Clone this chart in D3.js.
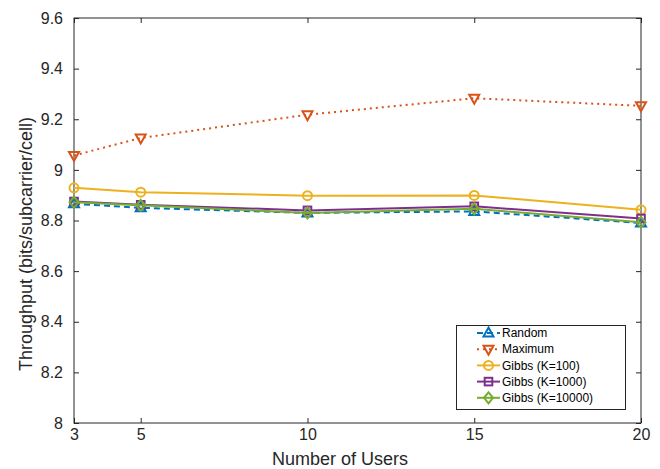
<!DOCTYPE html>
<html><head><meta charset="utf-8">
<script src="https://cdn.jsdelivr.net/npm/d3@7"></script>
<style>body{margin:0;background:#fff;}text{font-family:"Liberation Sans",Arial,sans-serif;}</style>
</head><body><svg id="c" width="660" height="469"></svg>
<script>
const users = [3, 5, 10, 15, 20];
const randomVals = [8.866, 8.850, 8.830, 8.836, 8.790];
const maximumVals = [9.057, 9.126, 9.218, 9.283, 9.253];
const gibbs100Vals = [8.929, 8.912, 8.898, 8.899, 8.842];
const gibbs1000Vals = [8.875, 8.862, 8.840, 8.856, 8.808];
const gibbs10000Vals = [8.872, 8.860, 8.830, 8.846, 8.793];
const seriesNames = ["Random", "Maximum", "Gibbs (K=100)", "Gibbs (K=1000)", "Gibbs (K=10000)"];
const xTicks = [3, 5, 10, 15, 20];
const yTicks = [8, 8.2, 8.4, 8.6, 8.8, 9, 9.2, 9.4, 9.6];

const series = [
  {name: seriesNames[0], vals: randomVals, color: "#0072BD", dash: "6,4", marker: "triUp"},
  {name: seriesNames[1], vals: maximumVals, color: "#D95319", dash: "2,4", marker: "triDown"},
  {name: seriesNames[2], vals: gibbs100Vals, color: "#EDB120", dash: null, marker: "circle"},
  {name: seriesNames[3], vals: gibbs1000Vals, color: "#7E2F8E", dash: null, marker: "square"},
  {name: seriesNames[4], vals: gibbs10000Vals, color: "#77AC30", dash: null, marker: "diamond"}
];

const L = 74, R = 641, T = 18, B = 423;
const svg = d3.select("#c");
const x = d3.scaleLinear().domain([3, 20]).range([L, R]);
const y = d3.scaleLinear().domain([8, 9.6]).range([B, T]);

const axisColor = "#262626";
svg.append("rect").attr("x", L).attr("y", T).attr("width", R - L).attr("height", B - T)
  .attr("fill", "none").attr("stroke", axisColor).attr("stroke-width", 1);

function styleAxis(g) {
  g.select(".domain").remove();
  g.selectAll(".tick line").attr("stroke", axisColor);
  g.selectAll(".tick text").attr("fill", axisColor).style("font-size", "16px");
}
svg.append("g").attr("transform", `translate(0,${B})`)
  .call(d3.axisBottom(x).tickValues(xTicks).tickSize(-5).tickPadding(6).tickFormat(d3.format("d")))
  .call(styleAxis);
svg.append("g").attr("transform", `translate(0,${T})`)
  .call(d3.axisTop(x).tickValues(xTicks).tickSize(-5).tickFormat(""))
  .call(styleAxis);
svg.append("g").attr("transform", `translate(${L},0)`)
  .call(d3.axisLeft(y).tickValues(yTicks).tickSize(-5).tickPadding(11).tickFormat(d => d3.format("")(+d.toFixed(1))))
  .call(styleAxis);
svg.append("g").attr("transform", `translate(${R},0)`)
  .call(d3.axisRight(y).tickValues(yTicks).tickSize(-5).tickFormat(""))
  .call(styleAxis);

svg.append("text").attr("x", 340).attr("y", 465).attr("text-anchor", "middle")
  .style("font-size", "18px").attr("fill", axisColor).text("Number of Users");
svg.append("text").attr("transform", `translate(32,244) rotate(-90)`).attr("text-anchor", "middle")
  .style("font-size", "18px").attr("fill", axisColor).text("Throughput (bits/subcarrier/cell)");

function drawMarker(g, type, cx, cy, color) {
  const s = 4.5;
  let el;
  if (type === "circle") el = g.append("circle").attr("cx", cx).attr("cy", cy).attr("r", s);
  else if (type === "square") el = g.append("rect").attr("x", cx - 3.8).attr("y", cy - 3.8).attr("width", 7.6).attr("height", 7.6);
  else {
    let pts;
    if (type === "triUp") pts = [[cx, cy - 5.5], [cx + 5, cy + 3.5], [cx - 5, cy + 3.5]];
    else if (type === "triDown") pts = [[cx, cy + 5.5], [cx + 5, cy - 3.5], [cx - 5, cy - 3.5]];
    else pts = [[cx, cy - 5.5], [cx + 4.5, cy], [cx, cy + 5.5], [cx - 4.5, cy]];
    el = g.append("polygon").attr("points", pts.map(p => p.join(",")).join(" "));
  }
  el.attr("fill", "none").attr("stroke", color).attr("stroke-width", 2);
}

const line = d3.line().x((d, i) => x(users[i])).y(d => y(d));
series.forEach(s => {
  const g = svg.append("g");
  g.append("path").attr("d", line(s.vals)).attr("fill", "none").attr("stroke", s.color)
    .attr("stroke-width", 2).attr("stroke-dasharray", s.dash);
  s.vals.forEach((v, i) => drawMarker(g, s.marker, x(users[i]), y(v), s.color));
});

const lg = svg.append("g");
lg.append("rect").attr("x", 456.5).attr("y", 325.5).attr("width", 169).attr("height", 84)
  .attr("fill", "#fff").attr("stroke", axisColor).attr("stroke-width", 1);
series.forEach((s, i) => {
  const yy = 333 + i * 16.2;
  lg.append("line").attr("x1", 477).attr("x2", 500).attr("y1", yy).attr("y2", yy)
    .attr("stroke", s.color).attr("stroke-width", 2).attr("stroke-dasharray", s.dash);
  drawMarker(lg, s.marker, 488.5, yy, s.color);
  lg.append("text").attr("x", 502).attr("y", yy).attr("dy", "0.35em")
    .style("font-size", "12px").attr("fill", "#000").text(s.name);
});
</script></body></html>
